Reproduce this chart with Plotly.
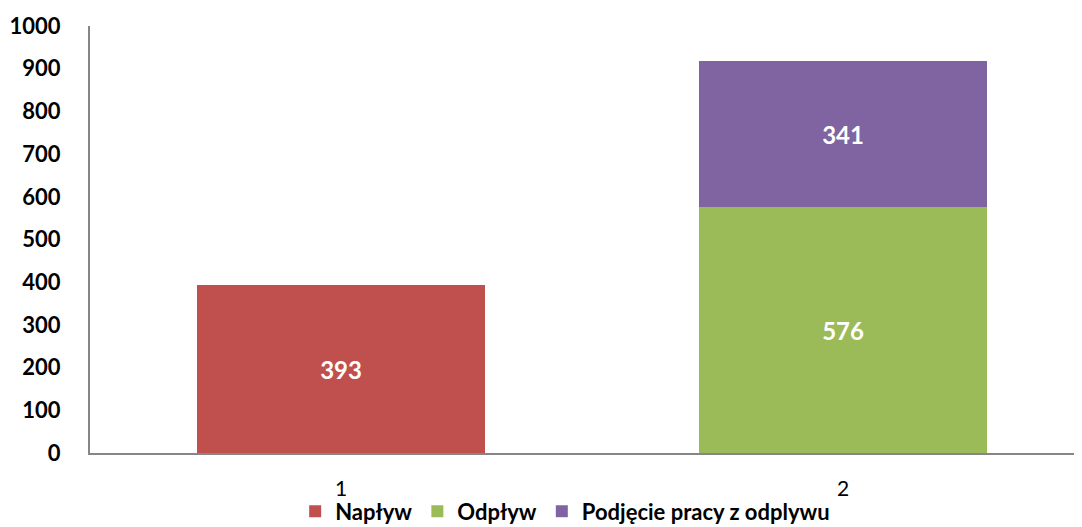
import plotly.graph_objects as go

categories = [1, 2]
naplyw = [393, None]
odplyw = [None, 576]
podjecie = [None, 341]
series_names = ["Napływ", "Odpływ", "Podjęcie pracy z odplywu"]
colors = ["#C0504D", "#9BBB59", "#8064A2"]
y_ticks = list(range(0, 1001, 100))

fig = go.Figure()
for name, vals, col in zip(series_names, [naplyw, odplyw, podjecie], colors):
    fig.add_trace(go.Bar(
        x=categories, y=vals, name=name, marker=dict(color=col, line=dict(width=0)),
        width=0.574, text=[str(v) if v is not None else "" for v in vals],
        textposition="inside", insidetextanchor="middle",
        textfont=dict(color="white", size=24, family="Lato", weight="bold"),
    ))

# page body has an 8px default margin, so the figure is 8px smaller than the window
fig.update_layout(
    barmode="stack",
    width=1074, height=519,
    margin=dict(l=82, r=0, t=18, b=74, autoexpand=False),
    plot_bgcolor="white", paper_bgcolor="white",
    font=dict(family="Lato", color="black"),
    showlegend=True,
    legend=dict(orientation="h", x=0.479, xanchor="center", yref="container", y=0.03, yanchor="middle",
                bgcolor="rgba(0,0,0,0)",
                font=dict(size=22, family="Lato", weight="bold"), itemwidth=30,
                traceorder="normal"),
    xaxis=dict(range=[0.5, 2.476], tickvals=categories, ticktext=[str(c) for c in categories],
               showline=True, linecolor="#868686", linewidth=2, showgrid=False, zeroline=False,
               ticks="", tickfont=dict(size=21, family="Lato"), ticklabelstandoff=16, automargin=False),
    yaxis=dict(range=[0, 1000], tickvals=y_ticks, showline=True, linecolor="#868686", linewidth=2,
               showgrid=False, zeroline=False, ticks="",
               tickfont=dict(size=22, family="Lato", weight="bold"), ticklabelstandoff=23, automargin=False),
)

fig.write_html("out.html")
